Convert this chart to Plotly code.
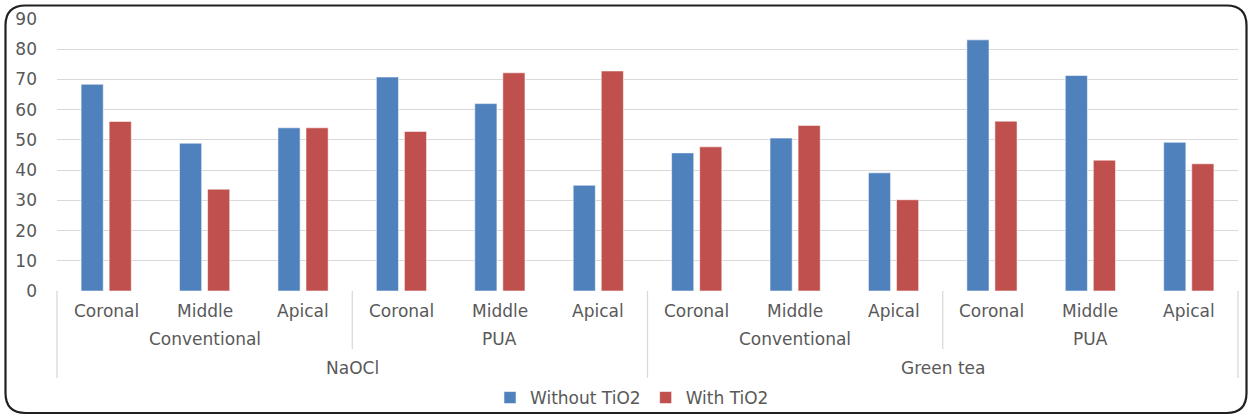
import plotly.graph_objects as go

# ---- data ----
solutions = ["NaOCl", "Green tea"]
techniques = ["Conventional", "PUA"]
regions = ["Coronal", "Middle", "Apical"]

without_tio2 = [68.4, 48.9, 54.0, 70.8, 62.0, 35.0, 45.7, 50.6, 39.1, 83.1, 71.3, 49.2]
with_tio2 = [56.1, 33.7, 54.0, 52.8, 72.2, 72.8, 47.7, 54.8, 30.2, 56.2, 43.3, 42.1]

y_ticks = [0, 10, 20, 30, 40, 50, 60, 70, 80, 90]

# ---- layout geometry (pixels) ----
W, H = 1249, 418
ML, MR, MT, MB = 57, 11, 19, 127
PW = W - ML - MR
PH = H - MT - MB

FONT = "DejaVu Sans"
FS = 17
TXT = "#595959"
GRID = "#d9d9d9"
BLUE = "#4F81BD"
RED = "#C0504D"

n_reg = len(regions)
n_tech = len(techniques)
n_cat = len(solutions) * n_tech * n_reg
xs = list(range(n_cat))


def px2paper_x(px):
    return (px - ML) / PW


def px2paper_y(py):
    return (H - MB - py) / PH


def cat_paper(pos):
    return (pos + 0.5) / n_cat


fig = go.Figure()
fig.add_trace(go.Bar(x=xs, y=without_tio2, name="Without TiO2",
                     marker=dict(color=BLUE, line=dict(color="rgba(255,255,255,0.55)", width=1))))
fig.add_trace(go.Bar(x=xs, y=with_tio2, name="With TiO2",
                     marker=dict(color=RED, line=dict(color="rgba(255,255,255,0.55)", width=1))))

annotations = []
shapes = []

# level 1 labels (regions)
for i in xs:
    annotations.append(dict(x=cat_paper(i), y=px2paper_y(311), xref="paper", yref="paper",
                            text=regions[i % n_reg], showarrow=False,
                            xanchor="center", yanchor="middle",
                            font=dict(family=FONT, size=FS, color=TXT)))
# level 2 labels (techniques)
for s in range(len(solutions)):
    for t in range(n_tech):
        start = (s * n_tech + t) * n_reg
        center = start + (n_reg - 1) / 2
        annotations.append(dict(x=cat_paper(center), y=px2paper_y(339), xref="paper", yref="paper",
                                text=techniques[t], showarrow=False,
                                xanchor="center", yanchor="middle",
                                font=dict(family=FONT, size=FS, color=TXT)))
# level 3 labels (solutions)
for s in range(len(solutions)):
    start = s * n_tech * n_reg
    center = start + (n_tech * n_reg - 1) / 2
    annotations.append(dict(x=cat_paper(center), y=px2paper_y(368), xref="paper", yref="paper",
                            text=solutions[s], showarrow=False,
                            xanchor="center", yanchor="middle",
                            font=dict(family=FONT, size=FS, color=TXT)))

# divider lines
for b in range(0, n_cat + 1, n_reg):
    xp = cat_paper(b - 0.5)
    if b % (n_tech * n_reg) == 0:
        y_end = px2paper_y(378)
    else:
        y_end = px2paper_y(349)
    shapes.append(dict(type="line", xref="paper", yref="paper",
                       x0=xp, x1=xp, y0=0, y1=y_end,
                       line=dict(color=GRID, width=1.3)))

# outer rounded frame
x0, x1 = px2paper_x(5.5), px2paper_x(1246.5)
y0, y1 = px2paper_y(5.5), px2paper_y(413)
rx = 20 / PW
ry = 20 / PH
path = (f"M {x0 + rx},{y0} L {x1 - rx},{y0} Q {x1},{y0} {x1},{y0 - ry} "
        f"L {x1},{y1 + ry} Q {x1},{y1} {x1 - rx},{y1} "
        f"L {x0 + rx},{y1} Q {x0},{y1} {x0},{y1 + ry} "
        f"L {x0},{y0 - ry} Q {x0},{y0} {x0 + rx},{y0} Z")
shapes.append(dict(type="path", xref="paper", yref="paper", path=path,
                   line=dict(color="#231f20", width=2.2)))

fig.update_layout(
    width=W, height=H,
    margin=dict(l=ML, r=MR, t=MT, b=MB, autoexpand=False),
    paper_bgcolor="white", plot_bgcolor="white",
    barmode="group", bargap=0.43, bargroupgap=0.21,
    font=dict(family=FONT, size=FS, color=TXT),
    showlegend=True,
    legend=dict(orientation="h", x=px2paper_x(632), xanchor="center",
                y=px2paper_y(398), yanchor="middle",
                bgcolor="rgba(0,0,0,0)",
                font=dict(family=FONT, size=FS, color=TXT),
                itemwidth=30, traceorder="normal"),
    annotations=annotations,
    shapes=shapes,
)
fig.update_xaxes(range=[-0.5, n_cat - 0.5], showticklabels=False, showgrid=False,
                 zeroline=False, showline=False, ticks="")
fig.update_yaxes(range=[0, 90], tickvals=y_ticks, showgrid=True, gridcolor=GRID, gridwidth=1.3,
                 zeroline=False, showline=False, ticks="", ticklabelstandoff=19,
                 tickfont=dict(family=FONT, size=FS, color=TXT))

fig.write_html("out.html", config={"displayModeBar": False},
               post_script="document.body.style.margin='0';document.body.style.overflow='hidden';")
